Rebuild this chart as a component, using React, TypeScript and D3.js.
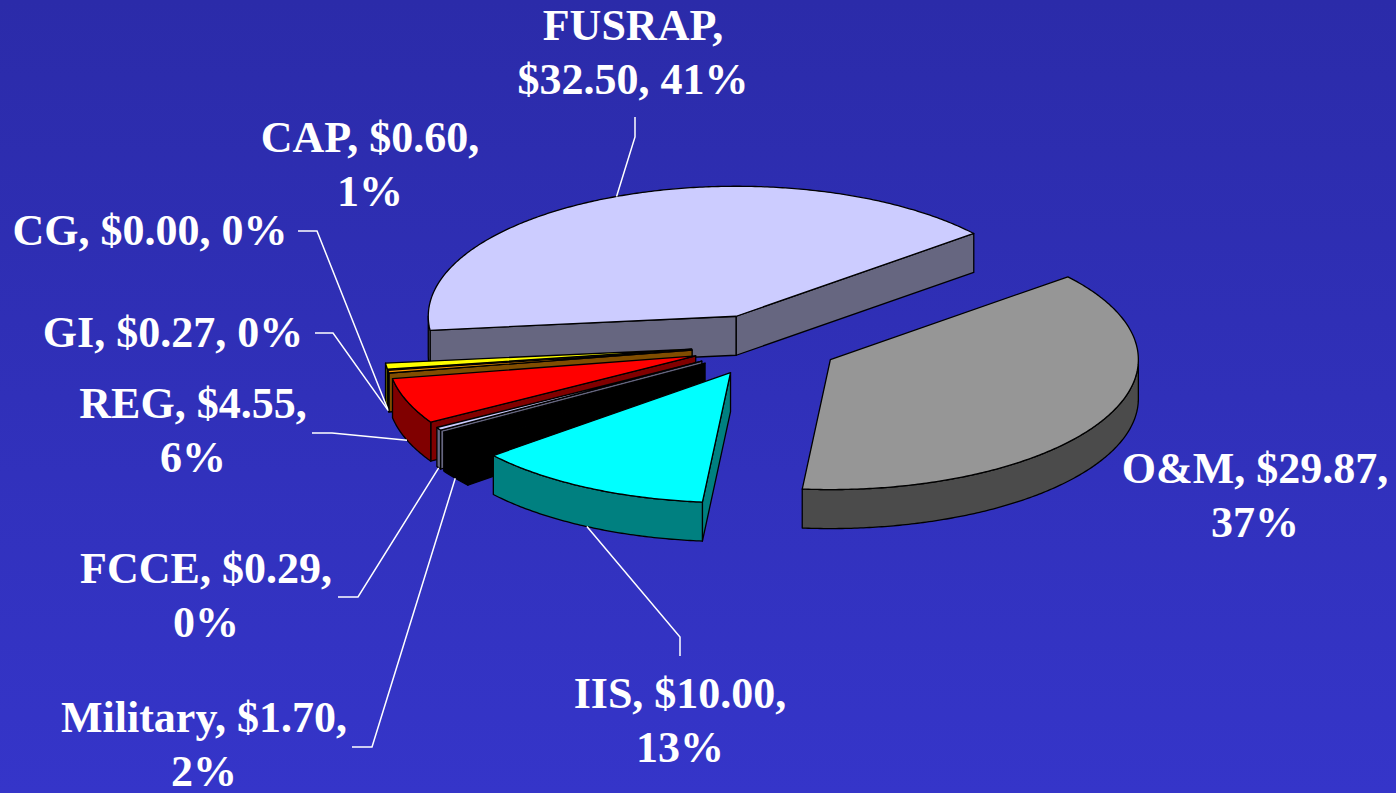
import React, { useEffect, useRef } from "react";
import * as d3 from "d3";

// slice data, clockwise from the left edge of FUSRAP
const categories = ["FUSRAP", "O&M", "IIS", "Military", "FCCE", "REG", "GI", "CG", "CAP"];
const amounts = [32.5, 29.87, 10.0, 1.7, 0.29, 4.55, 0.27, 0.0, 0.6];
const topColors = ["#CCCCFF", "#969696", "#00FFFF", "#000000", "#CCCCFF", "#FF0000", "#FF9900", "#99CC00", "#FFFF00"];
// how many comma parts go on the first label line
const firstLineParts = [1, 2, 2, 2, 2, 2, 3, 3, 2];

// label placement: centre x, first baseline y
const labelPos: [number, number][] = [
  [633, 40], [1255, 483], [680, 708], [204, 732], [206, 583],
  [193, 418], [173, 347], [150, 245], [370, 152],
];
// leader lines: elbow point and end point near the label (null = no leader)
const leaders: ([number, number][] | null)[] = [
  [[635, 137], [635, 117]],
  null,
  [[680, 637], [680, 656]],
  [[372, 747], [352, 747]],
  [[358, 597], [338, 597]],
  [[332, 433], [312, 433]],
  [[333, 333], [315, 333]],
  [[317, 231], [298, 231]],
  null,
];

const W = 1396, H = 793;
const cx = 765, cy = 345, rx = 308, ry = 130, depth = 39, explode = 0.24;
const startDeg = -96.2;

export default function App() {
  const ref = useRef<SVGSVGElement>(null);

  useEffect(() => {
    document.body.style.margin = "0";
    const svg = d3.select(ref.current);
    svg.selectAll("*").remove();

    const defs = svg.append("defs");
    const grad = defs.append("linearGradient").attr("id", "bg").attr("x1", 0).attr("y1", 0).attr("x2", 0).attr("y2", 1);
    grad.append("stop").attr("offset", "0%").attr("stop-color", "#2B2BA9");
    grad.append("stop").attr("offset", "100%").attr("stop-color", "#3535C9");
    svg.append("rect").attr("width", W).attr("height", H).attr("fill", "url(#bg)");

    const total = d3.sum(amounts);
    const a0 = (startDeg * Math.PI) / 180;
    const arcs = d3.pie<number>().sort(null).startAngle(a0).endAngle(a0 + 2 * Math.PI)(amounts);

    const line = d3.line<[number, number]>();
    const sideColor = (c: string) => d3.rgb(c).darker(1).toString(); // ~ half brightness

    const slices = arcs.map((d, i) => {
      const mid = (d.startAngle + d.endAngle) / 2;
      const ox = cx + explode * rx * Math.sin(mid);
      const oy = cy - explode * ry * Math.cos(mid);
      return { d, i, mid, ox, oy };
    });

    const rim = (s: { ox: number; oy: number }, t: number, dy = 0): [number, number] =>
      [s.ox + rx * Math.sin(t), s.oy - ry * Math.cos(t) + dy];

    const arcPts = (s: any, t0: number, t1: number, dy = 0) => {
      const n = Math.max(2, Math.ceil(Math.abs(t1 - t0) / 0.01));
      return d3.range(n + 1).map((k) => rim(s, t0 + ((t1 - t0) * k) / n, dy));
    };

    const pieG = svg.append("g");
    // back slices first
    const order = slices.slice().sort((p, q) => Math.cos(q.mid) - Math.cos(p.mid));
    order.forEach((s) => {
      const { startAngle: s0, endAngle: s1 } = s.d;
      if (s1 - s0 < 1e-6) return;
      const top = topColors[s.i];
      const side = s.i === 3 ? "#000000" : d3.rgb(top).r + d3.rgb(top).g + d3.rgb(top).b > 0 ? d3.rgb(d3.rgb(top).r / 2, d3.rgb(top).g / 2, d3.rgb(top).b / 2).toString() : sideColor(top);
      const g = pieG.append("g").attr("stroke", "#000").attr("stroke-width", 1.3).attr("stroke-linejoin", "round");
      const apex: [number, number] = [s.ox, s.oy];
      const apexB: [number, number] = [s.ox, s.oy + depth];

      // radial walls
      if (Math.sin(s0) < 0) {
        g.append("path").attr("fill", side)
          .attr("d", line([apex, rim(s, s0), rim(s, s0, depth), apexB])! + "Z");
      }
      if (Math.sin(s1) > 0) {
        g.append("path").attr("fill", side)
          .attr("d", line([apex, rim(s, s1), rim(s, s1, depth), apexB])! + "Z");
      }
      // outer wall, front half only
      [-1, 0, 1].forEach((k) => {
        const lo = Math.max(s0, Math.PI / 2 + 2 * Math.PI * k);
        const hi = Math.min(s1, (3 * Math.PI) / 2 + 2 * Math.PI * k);
        if (hi - lo > 1e-4) {
          const pts = arcPts(s, lo, hi).concat(arcPts(s, hi, lo, depth));
          g.append("path").attr("fill", side).attr("d", line(pts)! + "Z");
        }
      });
      // top face
      const topPts = [apex as [number, number]].concat(arcPts(s, s0, s1));
      g.append("path").attr("fill", top).attr("d", line(topPts)! + "Z");
    });

    // leader lines
    const lg = svg.append("g").attr("stroke", "#fff").attr("stroke-width", 1.5).attr("fill", "none");
    slices.forEach((s) => {
      const l = leaders[s.i];
      if (!l) return;
      const anchor = rim(s, s.mid, Math.cos(s.mid) < 0 ? depth : 0);
      lg.append("path").attr("d", line([anchor, ...l]));
    });

    // labels
    const fmtMoney = d3.format("$.2f");
    const fmtPct = (v: number) => Math.round((v / total) * 100) + "%";
    const tg = svg.append("g")
      .attr("fill", "#fff")
      .attr("font-family", "'Liberation Serif', 'Times New Roman', serif")
      .attr("font-weight", "bold")
      .attr("font-size", 44)
      .attr("text-anchor", "middle");
    categories.forEach((c, i) => {
      const parts = [c, fmtMoney(amounts[i]), fmtPct(amounts[i])];
      const n = firstLineParts[i];
      const lines = [parts.slice(0, n).join(", ") + (n < 3 ? "," : "")];
      if (n < 3) lines.push(parts.slice(n).join(", "));
      const t = tg.append("text").attr("x", labelPos[i][0]).attr("y", labelPos[i][1]);
      lines.forEach((ln, k) => {
        t.append("tspan").attr("x", labelPos[i][0]).attr("dy", k === 0 ? 0 : 54).text(ln);
      });
    });
  }, []);

  return <svg ref={ref} width={W} height={H} style={{ display: "block" }} />;
}
